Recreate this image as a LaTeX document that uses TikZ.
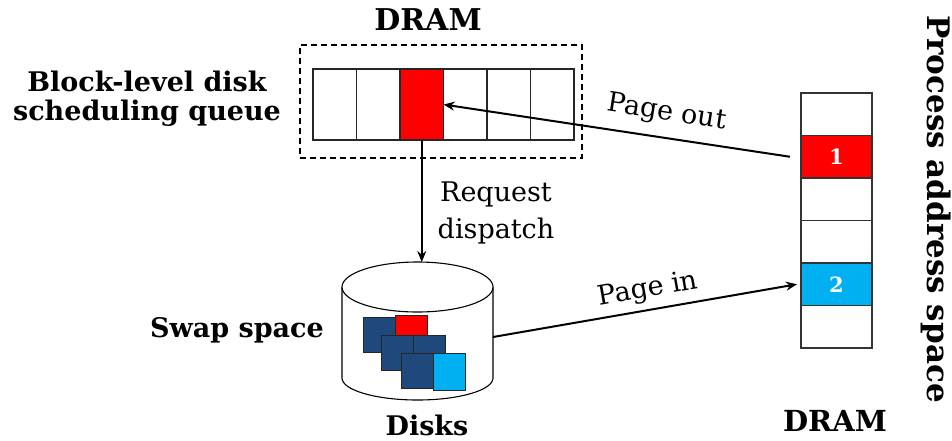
\documentclass[tikz,border=0pt]{standalone}
\usepackage{fontspec}
\setmainfont{DejaVu Serif}
\usetikzlibrary{arrows.meta}
\definecolor{hotred}{RGB}{255,0,0}
\definecolor{navyblk}{RGB}{31,73,125}
\definecolor{skyblk}{RGB}{0,176,240}
\begin{document}
\begin{tikzpicture}[x=1pt,y=-1pt,
  qcell/.style={draw=black!85, line width=1.4pt, fill=white, minimum width=43.5pt,
    minimum height=71pt, inner sep=0pt, outer sep=0pt},
  pcell/.style={draw=black!80, line width=1.3pt, fill=white, minimum width=71pt,
    minimum height=42.5pt, inner sep=0pt, outer sep=0pt,
    text=white, font=\fontsize{21}{21}\selectfont\bfseries},
  blk/.style={draw=black!85, line width=0.8pt, minimum width=32pt, minimum height=35pt,
    inner sep=0pt, outer sep=0pt},
  heavy/.style={font=\fontsize{27}{29}\selectfont\bfseries, align=center, inner sep=0pt},
  light/.style={font=\fontsize{27}{37}\selectfont, align=center, inner sep=0pt},
  flow/.style={line width=2pt, -{Stealth[length=11pt,width=9pt]}}]
\useasboundingbox (0,0) rectangle (952,440);

% DRAM holding the scheduling queue
\node[draw, dash pattern=on 6pt off 4pt, line width=1.1pt, minimum width=282pt,
  minimum height=113pt, inner sep=0pt] (dram) at (441,101.5) {};
\foreach \i in {1,...,6}
  \node[qcell] (q\i) at ({313+43.5*(\i-0.5)},104.5) {};
\node[qcell, fill=hotred] at (q3) {};

% process address space pages
\foreach \i in {1,...,6}
  \node[pcell] (p\i) at (836.5,{93+42.5*(\i-0.5)}) {};
\node[pcell, fill=hotred] (p2) at (836.5,156.75) {1};
\node[pcell, fill=skyblk] (p5) at (836.5,284.25) {2};

% disk cylinder
\draw[line width=1.1pt, fill=white] (342,287) -- (342,378)
  arc[start angle=180, end angle=360, x radius=75.5pt, y radius=22pt] -- (493,287);
\draw[line width=1.1pt, fill=white] (417.5,287) ellipse[x radius=75.5pt, y radius=25pt];
\coordinate (disktop) at (417.5,262);
\coordinate (diskside) at (493,337);

% swapped blocks stored on disk
\node[blk, fill=navyblk] (b1) at (379.5,334.5) {};
\node[blk, fill=hotred] (b2) at (411.5,332.5) {};
\node[blk, fill=navyblk] (b3) at (397.5,352.5) {};
\node[blk, fill=navyblk] (b4) at (429,352.5) {};
\node[blk, fill=navyblk] (b5) at (417,371) {};
\node[blk, fill=skyblk, minimum height=37pt] (b6) at (449,371.5) {};

% labels
\node[heavy, font=\fontsize{30}{30}\selectfont\bfseries] (ldram) at (428,20) {DRAM};
\node[heavy] (lqueue) at (147,99) {Block-level disk\\scheduling queue};
\node[heavy] (lswap) at (237,330) {Swap space};
\node[heavy] (ldisks) at (427,425) {Disks};
\node[heavy, font=\fontsize{29}{29}\selectfont\bfseries] (lpdram) at (835,421) {DRAM};
\node[heavy, rotate=-90, font=\fontsize{31}{31}\selectfont\bfseries] (lpas) at (936,209)
  {Process address space};

% transfers
\draw[flow] ([xshift=-11pt]p2.west) -- (q3.east);
\node[light, rotate=-9] (lout) at (667,113) {Page out};
\draw[flow] (diskside) -- ([xshift=-4pt]p5.west);
\node[light, rotate=10] (lin) at (648,290) {Page in};
\draw[flow] (q3.south) -- (q3.south |- disktop);
\node[light] (ldisp) at (496,213) {Request\\dispatch};
\end{tikzpicture}
\end{document}
